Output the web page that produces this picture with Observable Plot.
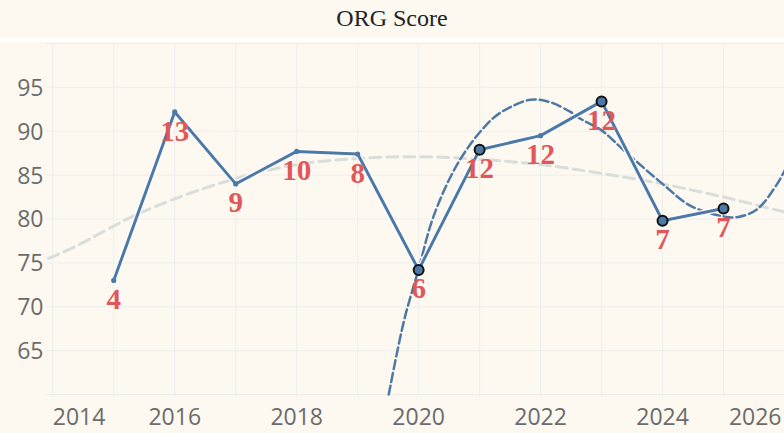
<!DOCTYPE html>
<html><head><meta charset="utf-8">
<script src="https://cdn.jsdelivr.net/npm/d3@7"></script>
<script src="https://cdn.jsdelivr.net/npm/@observablehq/plot@0.6"></script>
<style>
body{margin:0;background:#fdf9f1;overflow:hidden;}
#title{height:38px;line-height:36px;border-bottom:4px solid #ffffff;text-align:center;font-family:"Liberation Serif","Times New Roman",serif;font-size:24px;color:#222;}
#chart svg{display:block;}
</style></head><body>
<div id="title">ORG Score</div>
<div id="chart"></div>
<script>
const years = [2015, 2016, 2017, 2018, 2019, 2020, 2021, 2022, 2023, 2024, 2025];
const scores = [73.0, 92.2, 84.0, 87.7, 87.4, 74.2, 87.9, 89.5, 93.4, 79.8, 81.2];
const labels = [4, 13, 9, 10, 8, 6, 12, 12, 12, 7, 7];
const highlighted = [false, false, false, false, false, true, true, false, true, true, true];

const trendAllX = [2013.93, 2014.35, 2015, 2015.28, 2016, 2017, 2018, 2019, 2020, 2021, 2022, 2023, 2024, 2025, 2026];
const trendAllY = [75.5, 76.8, 79.2, 80.2, 82.3, 84.6, 86.2, 86.9, 87.1, 86.8, 86.2, 85.2, 84.0, 82.5, 80.8];

const trendRecentX = [2019.51, 2019.76, 2020, 2020.2, 2020.37, 2020.53, 2020.7, 2020.89, 2021.03, 2021.24, 2021.49, 2021.84, 2022.16, 2022.49, 2022.66, 2023, 2023.37, 2024, 2024.46, 2025, 2025.22, 2025.55, 2025.88, 2026];
const trendRecentY = [60.0, 68.4, 74.3, 79.4, 82.5, 84.9, 87.0, 88.9, 90.1, 91.6, 92.7, 93.6, 93.3, 92.2, 91.4, 90.1, 87.8, 84.0, 81.5, 80.3, 80.2, 81.1, 84.0, 85.5];

const xTicks = [2014, 2016, 2018, 2020, 2022, 2024, 2026];
const yTicks = [65, 70, 75, 80, 85, 90, 95];
const gridYears = [2014, 2015, 2016, 2017, 2018, 2019, 2020, 2021, 2022, 2023, 2024, 2025];
const gridValues = [60, 65, 70, 75, 80, 85, 90, 95, 100];

const data = years.map((y, i) => ({year: y, score: scores[i], label: labels[i], hl: highlighted[i]}));
const trendAll = trendAllX.map((x, i) => ({x, y: trendAllY[i]}));
const trendRecent = trendRecentX.map((x, i) => ({x, y: trendRecentY[i]}));

const blue = "#4e79a7";
const grid = "#eeeeec";
const tickFont = {fontFamily: "'Open Sans', sans-serif", fontSize: 23, fill: "#6b6b6b"};

const chart = Plot.plot({
  width: 784,
  height: 391,
  marginLeft: 48,
  marginRight: 0,
  marginTop: 1,
  marginBottom: 39,
  x: {domain: [2013.93, 2026], axis: null},
  y: {domain: [60, 100], axis: null},
  style: {background: "transparent", overflow: "visible"},
  marks: [
    Plot.ruleY(gridValues, {y: d => d, stroke: grid, strokeWidth: 1, insetLeft: -2}),
    Plot.ruleX(gridYears, {x: d => d, stroke: grid, strokeWidth: 1, insetBottom: -3}),
    Plot.text(yTicks, {y: d => d, text: d => String(d), frameAnchor: "left", textAnchor: "end", dx: -5, dy: 1, ...tickFont}),
    Plot.text(xTicks.slice(0, 1), {x: d => d, text: d => String(d), frameAnchor: "bottom", lineAnchor: "middle", textAnchor: "start", dy: 23, ...tickFont}),
    Plot.text(xTicks.slice(1, -1), {x: d => d, text: d => String(d), frameAnchor: "bottom", lineAnchor: "middle", textAnchor: "middle", dy: 23, ...tickFont}),
    Plot.text(xTicks.slice(-1), {x: d => d, text: d => String(d), frameAnchor: "bottom", lineAnchor: "middle", textAnchor: "end", dx: -3, dy: 23, ...tickFont}),
    Plot.line(trendAll, {x: "x", y: "y", curve: "catmull-rom", stroke: "#dadedb", strokeWidth: 3, strokeDasharray: "11,6"}),
    Plot.line(trendRecent, {x: "x", y: "y", curve: "catmull-rom", stroke: blue, strokeWidth: 2.5, strokeDasharray: "9,4"}),
    Plot.line(data, {x: "year", y: "score", stroke: "#ffffff", strokeWidth: 5.5}),
    Plot.line(data, {x: "year", y: "score", stroke: blue, strokeWidth: 3}),
    Plot.dot(data, {filter: d => !d.hl, x: "year", y: "score", r: 2.6, fill: blue}),
    Plot.dot(data, {filter: d => d.hl, x: "year", y: "score", r: 5, fill: blue, stroke: "#111", strokeWidth: 2}),
    Plot.text(data, {x: "year", y: "score", text: d => String(d.label), lineAnchor: "top", dy: 8, fill: "#e15759", fontSize: 29, fontWeight: "bold", fontFamily: "'Liberation Serif', 'Times New Roman', serif"})
  ]
});
document.getElementById("chart").appendChild(chart);
</script>
</body></html>
